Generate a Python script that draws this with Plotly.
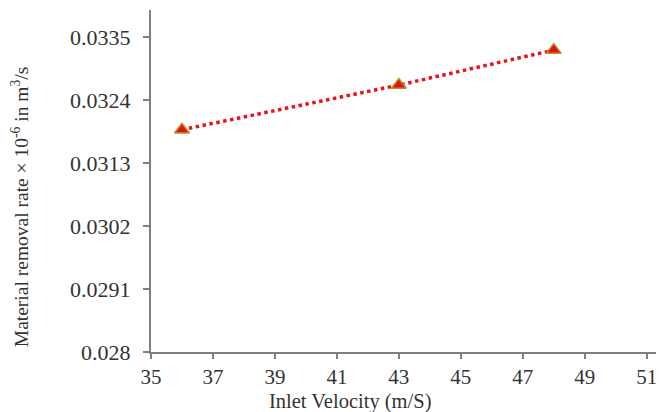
import plotly.graph_objects as go

velocity = [36, 43, 48]
mrr = [0.03188, 0.03266, 0.03327]
y_ticks = [0.028, 0.0291, 0.0302, 0.0313, 0.0324, 0.0335]
y_tick_labels = ["0.028", "0.0291", "0.0302", "0.0313", "0.0324", "0.0335"]
x_ticks = [35, 37, 39, 41, 43, 45, 47, 49, 51]

fig = go.Figure()
fig.add_trace(go.Scatter(
    x=velocity, y=mrr, mode="lines+markers",
    line=dict(color="#e8141c", width=3.5, dash="dot"),
    marker=dict(symbol="triangle-up", size=13, color="#e0140f",
                line=dict(color="#b8922a", width=1.5)),
    showlegend=False,
))

font = "Liberation Serif, Times New Roman, serif"
axis_common = dict(showline=True, linecolor="#808080", linewidth=2,
                   tickcolor="#808080", tickwidth=2, ticks="outside",
                   showgrid=False, zeroline=False)
fig.update_layout(
    width=659, height=412,
    margin=dict(l=151, r=3, t=10, b=60),
    paper_bgcolor="white", plot_bgcolor="white",
    xaxis=dict(range=[35, 51.3], tickvals=x_ticks, ticklen=5,
               tickfont=dict(family=font, size=21, color="#333333"), **axis_common),
    yaxis=dict(range=[0.028, 0.03397], tickvals=y_ticks, ticktext=y_tick_labels,
               ticklen=6, ticklabelstandoff=8,
               tickfont=dict(family=font, size=22, color="#333333"), **axis_common),
    annotations=[
        dict(text="Inlet Velocity (m/S)", xref="paper", yref="paper",
             x=0.394, y=-0.145, xanchor="center", yanchor="middle",
             showarrow=False, font=dict(family=font, size=20.5, color="#333333")),
        dict(text="Material removal rate × 10<sup>-6</sup> in m<sup>3</sup>/s",
             xref="paper", yref="paper", x=-0.259, y=0.424,
             xanchor="center", yanchor="middle", textangle=-90,
             showarrow=False, font=dict(family=font, size=19.5, color="#333333")),
    ],
)
fig.write_html("out.html", config={"displayModeBar": False},
               post_script="document.body.style.margin='0';document.body.style.overflow='hidden';")
